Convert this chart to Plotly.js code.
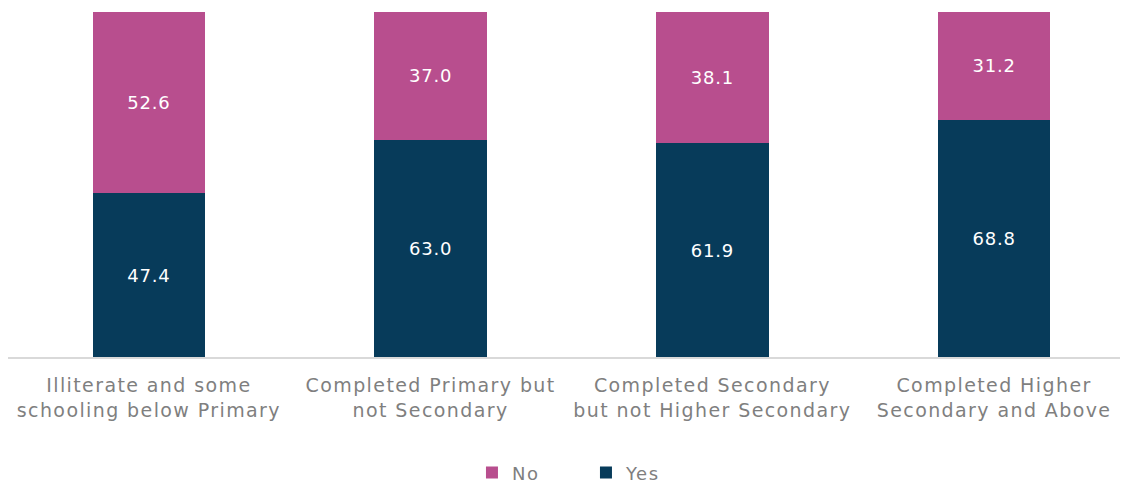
<!DOCTYPE html>
<html>
<head>
<meta charset="utf-8">
<script src="https://cdn.plot.ly/plotly-3.0.1.min.js"></script>
<style>
html,body{margin:0;padding:0;background:#fff;}
#chart{width:1124px;height:483px;}
#chart .xtick text{letter-spacing:1.4px;}
#chart .legendtext{letter-spacing:1.5px;}
#chart .bartext{letter-spacing:0.8px;}
</style>
</head>
<body>
<div id="chart"></div>
<script>
const categories = [
  "Illiterate and some<br>schooling below Primary",
  "Completed Primary but<br>not Secondary",
  "Completed Secondary<br>but not Higher Secondary",
  "Completed Higher<br>Secondary and Above"
];
const yesValues = [47.4, 63.0, 61.9, 68.8];
const noValues = [52.6, 37.0, 38.1, 31.2];

const fontFam = "'DejaVu Sans', 'Noto Sans', sans-serif";
const traces = [
  {
    type: 'bar', name: 'Yes', x: categories, y: yesValues,
    marker: {color: '#073B5A'},
    text: yesValues.map(v => v.toFixed(1)), textposition: 'inside', insidetextanchor: 'middle',
    textfont: {color: '#ffffff', size: 18, family: fontFam},
    hoverinfo: 'y+name'
  },
  {
    type: 'bar', name: 'No', x: categories, y: noValues,
    marker: {color: '#B84E8E'},
    text: noValues.map(v => v.toFixed(1)), textposition: 'inside', insidetextanchor: 'middle',
    textfont: {color: '#ffffff', size: 18, family: fontFam},
    hoverinfo: 'y+name'
  }
];
const layout = {
  width: 1124, height: 483,
  margin: {l: 8, r: 4, t: 12, b: 126, autoexpand: false},
  barmode: 'stack', bargap: 0.6,
  paper_bgcolor: '#ffffff', plot_bgcolor: '#ffffff',
  font: {family: fontFam, size: 17, color: '#7f7f7f'},
  showlegend: true,
  legend: {orientation: 'h', xref: 'container', x: 0.4199, xanchor: 'left', yref: 'container', y: 0.021, yanchor: 'middle', traceorder: 'reversed', font: {size: 18, color: '#7f7f7f'}, itemwidth: 30, entrywidth: 69},
  xaxis: {type: 'category', range: [-0.5, 3.447], showline: true, linecolor: '#d9d9d9', linewidth: 1.5, ticks: '', showgrid: false, tickfont: {size: 19, color: '#7f7f7f'}, ticklabelstandoff: 11, fixedrange: true},
  yaxis: {range: [0, 100], showgrid: false, zeroline: false, showticklabels: false, ticks: '', fixedrange: true}
};
Plotly.newPlot('chart', traces, layout, {displayModeBar: false, staticPlot: true});
</script>
</body>
</html>
